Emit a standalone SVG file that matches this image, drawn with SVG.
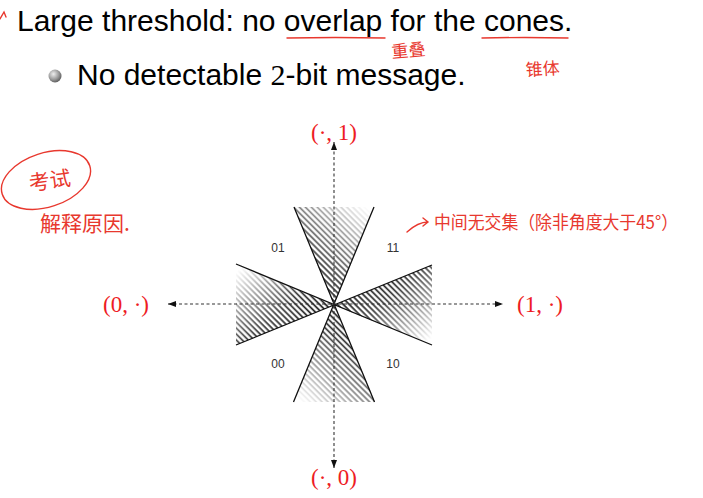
<svg xmlns="http://www.w3.org/2000/svg" width="703" height="498" viewBox="0 0 703 498">
<style>
.main{font-family:"Liberation Sans",Arial,sans-serif;font-size:30px;fill:#000}
.math{font-family:"Liberation Serif","DejaVu Serif",serif;font-size:23px;fill:#ee1c24}
.lab{font-family:"Liberation Sans",Arial,sans-serif;font-size:12px;fill:#333}
.axis{stroke:#333;stroke-width:1.1;stroke-dasharray:3 2.5;fill:none}
.edge{stroke:#111;stroke-width:1.3;fill:none}
.hand{font-family:"Noto Sans CJK SC",sans-serif;fill:#e8382e}
.ink{stroke:#e8382e;stroke-width:1.4;fill:none;stroke-linecap:round}
</style>
<defs>
<marker id="ah" viewBox="0 0 8 6" refX="8" refY="3" markerWidth="8" markerHeight="6" markerUnits="userSpaceOnUse" orient="auto-start-reverse">
<path d="M0,0 L8,3 L0,6 z" fill="#111"/>
</marker>
<pattern id="hatch" width="4.2" height="4.2" patternUnits="userSpaceOnUse" patternTransform="rotate(45)">
<rect x="0" y="1.1" width="4.2" height="1.7" fill="#1a1a1a"/>
</pattern>
<radialGradient id="ball" cx="0.38" cy="0.35" r="0.7">
<stop offset="0" stop-color="#eeeeee"/>
<stop offset="0.6" stop-color="#999"/>
<stop offset="1" stop-color="#555"/>
</radialGradient>
<linearGradient id="gT" gradientUnits="userSpaceOnUse" x1="302" y1="288" x2="372" y2="212">
<stop offset="0" stop-color="#fff"/><stop offset="0.3" stop-color="#e0e0e0"/><stop offset="1" stop-color="#000"/>
</linearGradient>
<linearGradient id="gB" gradientUnits="userSpaceOnUse" x1="366" y1="322" x2="296" y2="398">
<stop offset="0" stop-color="#fff"/><stop offset="0.3" stop-color="#e0e0e0"/><stop offset="1" stop-color="#000"/>
</linearGradient>
<linearGradient id="gR" gradientUnits="userSpaceOnUse" x1="372" y1="280" x2="428" y2="342">
<stop offset="0" stop-color="#fff"/><stop offset="0.3" stop-color="#e0e0e0"/><stop offset="1" stop-color="#000"/>
</linearGradient>
<linearGradient id="gL" gradientUnits="userSpaceOnUse" x1="296" y1="330" x2="240" y2="268">
<stop offset="0" stop-color="#fff"/><stop offset="0.3" stop-color="#e0e0e0"/><stop offset="1" stop-color="#000"/>
</linearGradient>
<mask id="mT"><polygon points="334,305 294,207 374,207" fill="url(#gT)"/></mask>
<mask id="mB"><polygon points="334,305 293,402 375,402" fill="url(#gB)"/></mask>
<mask id="mR"><polygon points="334,305 432,265 432,345" fill="url(#gR)"/></mask>
<mask id="mL"><polygon points="334,305 236,264 236,345" fill="url(#gL)"/></mask>
</defs>

<rect width="703" height="498" fill="#fff"/>

<g id="title">
<text class="main" x="17" y="31">Large threshold: no overlap for the cones.</text>
<circle cx="55" cy="76" r="6.5" fill="url(#ball)"/>
<text class="main" x="77" y="85">No detectable <tspan font-family="Liberation Serif, serif">2</tspan>-bit message.</text>
</g>

<g id="cones">
<rect x="230" y="200" width="210" height="210" fill="url(#hatch)" mask="url(#mT)"/>
<rect x="230" y="200" width="210" height="210" fill="url(#hatch)" mask="url(#mB)"/>
<rect x="230" y="200" width="210" height="210" fill="url(#hatch)" mask="url(#mR)"/>
<rect x="230" y="200" width="210" height="210" fill="url(#hatch)" mask="url(#mL)"/>
<path class="edge" d="M294,207 L374.5,402 M374,207 L293.5,402 M236,264 L432,345 M236,345 L432,265"/>
</g>

<g id="connectors">
<line class="axis" x1="334" y1="468" x2="334" y2="142" marker-start="url(#ah)" marker-end="url(#ah)"/>
<line class="axis" x1="168" y1="304" x2="503" y2="304" marker-start="url(#ah)" marker-end="url(#ah)"/>
</g>

<g id="quadrants">
<text class="lab" x="278" y="252" text-anchor="middle">01</text>
<text class="lab" x="393" y="252" text-anchor="middle">11</text>
<text class="lab" x="278" y="368" text-anchor="middle">00</text>
<text class="lab" x="393" y="368" text-anchor="middle">10</text>
</g>

<g id="axis-labels">
<text class="math" x="334" y="140" text-anchor="middle">(·, 1)</text>
<text class="math" x="126" y="312" text-anchor="middle">(0, ·)</text>
<text class="math" x="540" y="312" text-anchor="middle">(1, ·)</text>
<text class="math" x="334" y="485" text-anchor="middle">(·, 0)</text>
</g>

<g id="annotations">
<path class="ink" d="M0,19 L4,12 L6,17"/>
<path class="ink" d="M287,38 Q335,37 385,38"/>
<path class="ink" d="M482,38 Q525,37 568,38"/>
<text class="hand" x="392" y="58" font-size="17" transform="rotate(-5 392 58)">重叠</text>
<text class="hand" x="526" y="76" font-size="17" transform="rotate(-3 526 76)">锥体</text>
<ellipse class="ink" cx="46" cy="180" rx="46" ry="27" transform="rotate(-18 46 180)"/>
<text class="hand" x="30" y="191" font-size="21" transform="rotate(-8 30 191)">考试</text>
<text class="hand" x="40" y="231" font-size="21">解释原因.</text>
<path class="ink" d="M407,232 Q418,222 428,222 M423,218 L428,222 L423,226"/>
<text class="hand" x="434" y="229" font-size="18" textLength="244" lengthAdjust="spacingAndGlyphs">中间无交集（除非角度大于45°）</text>
</g>
</svg>
